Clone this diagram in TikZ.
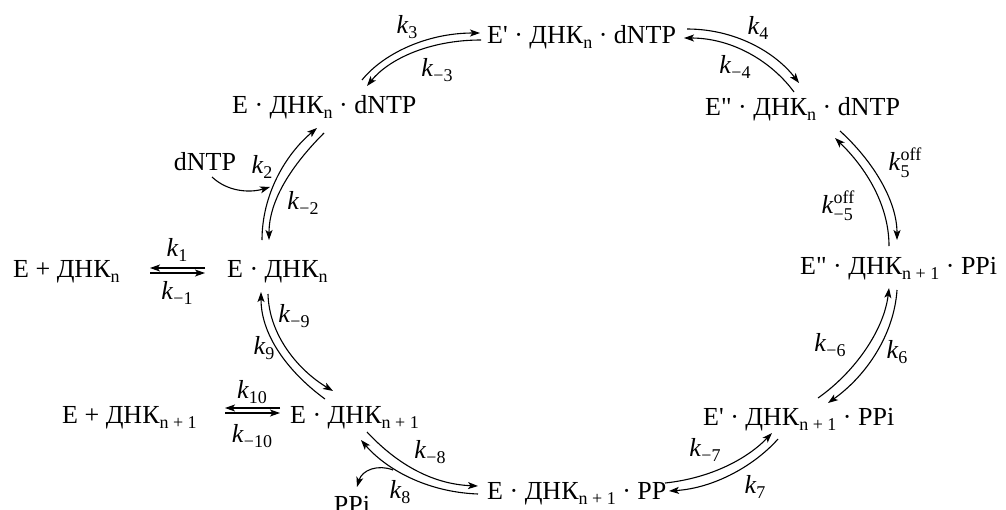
\documentclass[tikz,border=0pt]{standalone}
\usepackage{fontspec}
\newfontfamily\plainser{Liberation Serif}
\usetikzlibrary{arrows.meta}
\newcommand{\smallsz}{\fontsize{18}{18}\selectfont}
\newcommand{\sbs}[1]{\raisebox{-5pt}{\smallsz #1}}
\newcommand{\kk}[1]{\textit{k}\raisebox{-5.5pt}{\smallsz #1}}
\newcommand{\kof}[1]{\textit{k}\raisebox{-6.5pt}{\fontsize{18}{16}\selectfont\begin{tabular}[b]{@{}l@{}}off\\#1\end{tabular}}}
\begin{document}
\begin{tikzpicture}[x=1pt,y=-1pt,font=\plainser\fontsize{26}{30}\selectfont,
  sp/.style={inner sep=0pt,anchor=base west},
  lbl/.style={inner sep=0pt},
  arr/.style={line width=1.1pt,-{Stealth[length=10pt,width=7pt,inset=2.5pt]}}]
\useasboundingbox (0,0) rectangle (1006,509);
% species
\node[sp] (A) at (487,43) {E' · ДНК\sbs{n} · dNTP};
\node[sp] (B) at (232,113) {E · ДНК\sbs{n} · dNTP};
\node[sp] (C) at (705,115) {E" · ДНК\sbs{n} · dNTP};
\node[sp] (D) at (13,277) {E + ДНК\sbs{n}};
\node[sp] (E) at (227,277) {E · ДНК\sbs{n}};
\node[sp] (F) at (800,274) {E" · ДНК\sbs{n + 1} · PPi};
\node[sp] (G) at (62,423) {E + ДНК\sbs{n + 1}};
\node[sp] (H) at (290,423) {E · ДНК\sbs{n + 1}};
\node[sp] (I) at (703,425) {E' · ДНК\sbs{n + 1} · PPi};
\node[sp] (J) at (487,499) {E · ДНК\sbs{n + 1} · PP};
\node[inner sep=0pt,anchor=base] (dntp) at (205,170) {dNTP};
\node[inner sep=0pt,anchor=base] (ppi) at (352,513) {PPi};
% rate labels
\node[lbl] (l1) at (177,250) {\kk{1}};
\node[lbl] (lm1) at (177,293) {\kk{−1}};
\node[lbl] (l10) at (252,392) {\kk{10}};
\node[lbl] (lm10) at (252,436) {\kk{−10}};
\node[lbl] (l2) at (262,167) {\kk{2}};
\node[lbl] (lm2) at (303,203) {\kk{−2}};
\node[lbl] (l3) at (407,27) {\kk{3}};
\node[lbl] (lm3) at (437,70) {\kk{−3}};
\node[lbl] (l4) at (758,28) {\kk{4}};
\node[lbl] (lm4) at (735,67) {\kk{−4}};
\node[lbl] (l5) at (905,165) {\kof{5}};
\node[lbl] (lm5) at (838,208) {\kof{−5}};
\node[lbl] (l6) at (897,352) {\kk{6}};
\node[lbl] (lm6) at (830,345) {\kk{−6}};
\node[lbl] (l7) at (755,487) {\kk{7}};
\node[lbl] (lm7) at (705,450) {\kk{−7}};
\node[lbl] (l8) at (400,492) {\kk{8}};
\node[lbl] (lm8) at (430,452) {\kk{−8}};
\node[lbl] (l9) at (264,348) {\kk{9}};
\node[lbl] (lm9) at (294,316) {\kk{−9}};
% connector end points
\coordinate (k1a) at (205,268); \coordinate (k1b) at (150,268);
\coordinate (k1c) at (150,273); \coordinate (k1d) at (205,273);
\coordinate (k10a) at (280,408); \coordinate (k10b) at (225,408);
\coordinate (k10c) at (225,413); \coordinate (k10d) at (280,413);
\coordinate (k2a) at (262,240); \coordinate (k2b) at (317,128);
\coordinate (k2c) at (324,133); \coordinate (k2d) at (269,240);
\coordinate (k3a) at (362,80); \coordinate (k3b) at (480,33);
\coordinate (k3c) at (481,40); \coordinate (k3d) at (367,86);
\coordinate (k4a) at (687,29); \coordinate (k4b) at (799,83);
\coordinate (k4c) at (794,92); \coordinate (k4d) at (684,38);
\coordinate (k5a) at (840,131); \coordinate (k5b) at (897,240);
\coordinate (k5c) at (889,246); \coordinate (k5d) at (835,138);
\coordinate (k6a) at (818,398); \coordinate (k6b) at (889,288);
\coordinate (k6c) at (897,290); \coordinate (k6d) at (828,403);
\coordinate (k7a) at (665,483); \coordinate (k7b) at (772,433);
\coordinate (k7c) at (778,439); \coordinate (k7d) at (669,491);
\coordinate (k8a) at (367,432); \coordinate (k8b) at (478,486);
\coordinate (k8c) at (478,494); \coordinate (k8d) at (361,440);
\coordinate (k9a) at (325,399); \coordinate (k9b) at (261,292);
\coordinate (k9c) at (268,294); \coordinate (k9d) at (333,391);
\coordinate (dna) at (212,177); \coordinate (dnb) at (270,187);
\coordinate (ppa) at (393,470); \coordinate (ppb) at (357,487);
% connectors
\draw[arr] (k1a) -- (k1b);
\draw[arr] (k1c) -- (k1d);
\draw[arr] (k10a) -- (k10b);
\draw[arr] (k10c) -- (k10d);
\draw[arr] (k2a) .. controls (262,195) and (285,155) .. (k2b);
\draw[arr] (k2c) .. controls (292,165) and (269,200) .. (k2d);
\draw[arr] (k3a) .. controls (382,55) and (425,33) .. (k3b);
\draw[arr] (k3c) .. controls (428,40) and (388,60) .. (k3d);
\draw[arr] (k4a) .. controls (735,29) and (775,52) .. (k4b);
\draw[arr] (k4c) .. controls (772,62) and (733,38) .. (k4d);
\draw[arr] (k5a) .. controls (872,160) and (897,200) .. (k5b);
\draw[arr] (k5c) .. controls (889,205) and (866,168) .. (k5d);
\draw[arr] (k6a) .. controls (855,372) and (884,330) .. (k6b);
\draw[arr] (k6c) .. controls (894,335) and (866,376) .. (k6d);
\draw[arr] (k7a) .. controls (712,478) and (748,458) .. (k7b);
\draw[arr] (k7c) .. controls (755,465) and (715,488) .. (k7d);
\draw[arr] (k8a) .. controls (395,462) and (430,484) .. (k8b);
\draw[arr] (k8c) .. controls (425,492) and (385,468) .. (k8d);
\draw[arr] (k9a) .. controls (292,375) and (261,338) .. (k9b);
\draw[arr] (k9c) .. controls (269,335) and (298,370) .. (k9d);
\draw[arr] (dna) .. controls (228,192) and (250,193) .. (dnb);
\draw[arr] (ppa) .. controls (378,464) and (362,470) .. (ppb);
\end{tikzpicture}
\end{document}
